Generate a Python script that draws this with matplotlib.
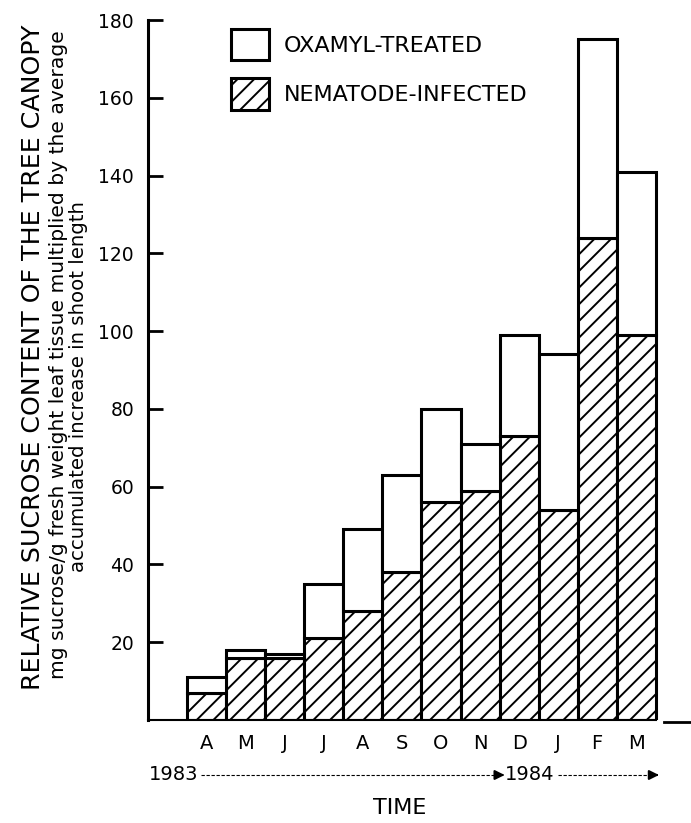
import matplotlib.pyplot as plt
import matplotlib.transforms as mtransforms
from matplotlib.lines import Line2D

# datos
meses = ["A", "M", "J", "J", "A", "S", "O", "N", "D", "J", "F", "M"]
oxamyl = [11, 18, 17, 35, 49, 63, 80, 71, 99, 94, 175, 141]
nematodo = [7, 16, 16, 21, 28, 38, 56, 59, 73, 54, 124, 99]
yticks = [20, 40, 60, 80, 100, 120, 140, 160, 180]

plt.rcParams['font.family'] = 'DejaVu Sans'
plt.rcParams['hatch.linewidth'] = 1.4

fig = plt.figure(figsize=(6.91, 8.23), dpi=100)
ax = fig.add_axes([148 / 691, 1 - 720 / 823, 543 / 691, 700 / 823])

x = [i + 1 for i in range(len(meses))]
resto = [o - n for o, n in zip(oxamyl, nematodo)]

b_nem = ax.bar(x, nematodo, width=1, align='edge', color='white', edgecolor='black',
               linewidth=2.2, hatch='//', label='NEMATODE-INFECTED')
b_oxa = ax.bar(x, resto, bottom=nematodo, width=1, align='edge', color='white',
               edgecolor='black', linewidth=2.2, label='OXAMYL-TREATED')

ax.set_xlim(0, 13.9)
ax.set_ylim(0, 180)
for s in ['top', 'right']:
    ax.spines[s].set_visible(False)
ax.spines['left'].set_linewidth(2.2)
ax.spines['bottom'].set_linewidth(1.5)
ax.spines['bottom'].set_bounds(0, 13)
ax.plot([13.2, 13.9], [-0.4, -0.4], color='black', lw=2, clip_on=False)

ax.set_yticks(yticks)
ax.set_yticklabels([str(v) for v in yticks], fontsize=13.5)
ax.tick_params(axis='y', direction='in', length=11, width=2, pad=10)
ax.set_xticks([v + 0.5 for v in x])
ax.set_xticklabels(meses, fontsize=14)
ax.tick_params(axis='x', length=0, pad=10)

ax.legend(handles=[b_oxa, b_nem], loc='upper left', bbox_to_anchor=(231 / 691, 1 - 29 / 823),
          bbox_transform=fig.transFigure, frameon=False, fontsize=16, borderpad=0,
          borderaxespad=0, handlelength=1.71, handleheight=1.8, labelspacing=0.81,
          handletextpad=0.68)

# etiquetas del eje y
fig.text(33 / 691, 1 - 357 / 823, "RELATIVE SUCROSE CONTENT OF THE TREE CANOPY",
         rotation=90, fontsize=18.2, ha='center', va='center')
fig.text(59 / 691, 1 - 355 / 823, "mg sucrose/g fresh weight leaf tissue multiplied by the average",
         rotation=90, fontsize=14.6, ha='center', va='center')
fig.text(79 / 691, 1 - 387 / 823, "accumulated increase in shoot length",
         rotation=90, fontsize=14.2, ha='center', va='center')

# años con flechas
tr = mtransforms.blended_transform_factory(ax.transData, fig.transFigure)
yy = 1 - 775 / 823
ax.text(0.65, yy, "1983", transform=tr, fontsize=14, ha='center', va='center', clip_on=False)
ax.text(9.77, yy, "1984", transform=tr, fontsize=14, ha='center', va='center', clip_on=False)
for x0, x1 in [(1.35, 9.2), (10.5, 13.15)]:
    fig.add_artist(Line2D([x0, x1 - 0.2], [yy, yy], transform=tr, color='black', lw=0.8,
                          linestyle=(0, (3, 1.5))))
    ax.annotate("", xy=(x1, yy), xytext=(x1 - 0.25, yy), xycoords=tr, textcoords=tr,
                arrowprops=dict(arrowstyle='-|>', color='black', lw=1.5, mutation_scale=14),
                annotation_clip=False)

fig.text(400 / 691, 1 - 808 / 823, "TIME", fontsize=16, ha='center', va='center')

plt.savefig("out.png", dpi=100)
